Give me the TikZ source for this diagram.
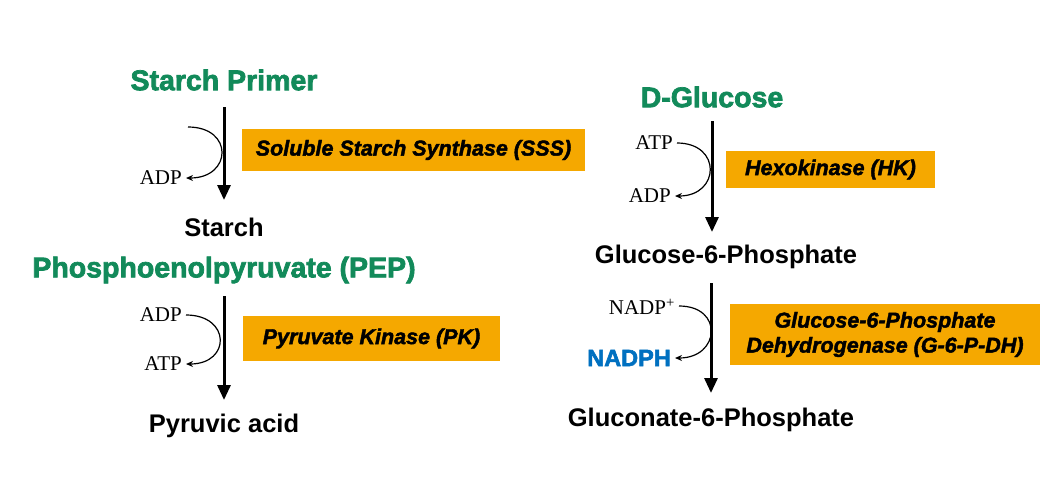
\documentclass[tikz,border=0pt]{standalone}
\usepackage{fontspec}
\setmainfont{Liberation Serif}
\newfontfamily\arialf{Liberation Sans}
\newfontfamily\heavyf{Liberation Sans}[BoldFeatures={FakeBold=2.5}, BoldItalicFeatures={FakeBold=2}]
\usetikzlibrary{arrows.meta}
\definecolor{pgreen}{RGB}{18,138,90}
\definecolor{porange}{RGB}{245,168,0}
\definecolor{pblue}{RGB}{0,112,192}
\tikzset{
  substrate/.style={inner sep=2pt, text=pgreen, font=\heavyf\bfseries\fontsize{28.5}{32}\selectfont},
  product/.style={inner sep=2pt, font=\arialf\bfseries\fontsize{25.5}{28}\selectfont},
  enzyme/.style={fill=porange, inner sep=0pt, align=center, font=\heavyf\bfseries\itshape\fontsize{21.5}{25}\selectfont},
  cofactor/.style={inner sep=4pt, font=\fontsize{21}{23}\selectfont},
  mainarr/.style={line width=3pt, -{Triangle[length=15pt,width=13pt]}},
  sidearr/.style={line width=1.2pt, -{Stealth[length=7pt,width=6pt]}},
}
\begin{document}
\begin{tikzpicture}[x=1pt,y=-1pt]
\useasboundingbox (0,0) rectangle (1063,498);

% ---- pathway 1: starch
\node[substrate] (sp) at (224,80) {Starch Primer};
\node[product] (st) at (224,227) {Starch};
\draw[mainarr, shorten <=27pt, shorten >=27pt] (sp.center) -- (st.center);
\node[enzyme, minimum width=343pt, minimum height=42pt] (sss) at (413.5,150) {Soluble Starch Synthase (SSS)};
\node[cofactor, anchor=east] (adp1) at (186,178) {ADP};
\coordinate (c1) at (188,127);
\draw[sidearr] (c1) .. controls +(46,0) and +(46,0) .. (adp1.east);

% ---- pathway 2: PEP
\node[substrate] (pep) at (224,270) {Phosphoenolpyruvate (PEP)};
\node[product] (pyr) at (224,426) {Pyruvic acid};
\draw[mainarr, shorten <=26pt, shorten >=26pt] (pep.center) -- (pyr.center);
\node[enzyme, minimum width=257pt, minimum height=45pt] (pk) at (371.5,338.5) {Pyruvate Kinase (PK)};
\node[cofactor, anchor=east] (adp2) at (186,315) {ADP};
\node[cofactor, anchor=east] (atp2) at (186,364) {ATP};
\draw[sidearr] (adp2.east) .. controls +(45,0) and +(45,0) .. (atp2.east);

% ---- pathway 3: glucose
\node[substrate] (dg) at (712,97) {D-Glucose};
\node[product] (g6p) at (726,257) {Glucose-6-Phosphate};
\draw[mainarr, shorten <=24pt, shorten >=25pt] (dg.center) -- (dg.center |- g6p.center);
\node[enzyme, minimum width=209pt, minimum height=37pt] (hk) at (830.5,169.5) {Hexokinase (HK)};
\node[cofactor, anchor=east] (atp3) at (677,143) {ATP};
\node[cofactor, anchor=east] (adp3) at (675,196) {ADP};
\draw[sidearr] (atp3.east) .. controls +(45,0) and +(45,0) .. (adp3.east);

% ---- pathway 4: G6P dehydrogenase
\node[product] (gl6p) at (711,420) {Gluconate-6-Phosphate};
\draw[mainarr, shorten <=26pt, shorten >=27pt] (gl6p.center |- g6p.center) -- (gl6p.center);
\node[enzyme, minimum width=310pt, minimum height=61pt] (g6pdh) at (885,334.5) {Glucose-6-Phosphate\\Dehydrogenase (G-6-P-DH)};
\node[cofactor, anchor=east] (nadp) at (679,307) {NADP\textsuperscript{+}};
\node[cofactor, anchor=east, text=pblue, font=\heavyf\bfseries\fontsize{23.5}{26}\selectfont] (nadph) at (675,358) {NADPH};
\draw[sidearr] ([yshift=1pt]nadp.east) .. controls +(45,0) and +(45,0) .. (nadph.east);
\end{tikzpicture}
\end{document}
